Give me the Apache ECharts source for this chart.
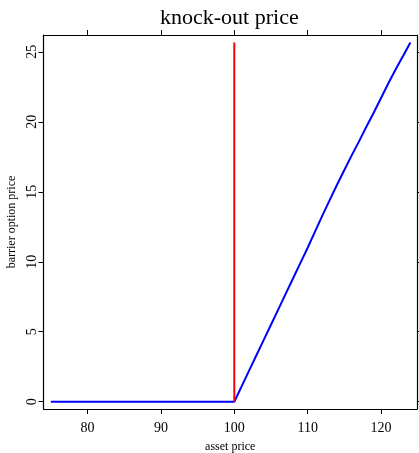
<!DOCTYPE html>
<html>
<head>
<meta charset="utf-8">
<script src="https://cdn.jsdelivr.net/npm/echarts@6/dist/echarts.min.js"></script>
<style>
  html, body { margin: 0; padding: 0; background: #fff; }
  #chart { width: 419px; height: 453px; }
</style>
</head>
<body>
<div id="chart"></div>
<script>
// asset price grid and knock-out option price
var assetPrice = [75, 80, 85, 90, 95, 100, 101, 102, 103, 104, 105, 106, 107, 108, 109, 110,
                  111, 112, 113, 114, 115, 116, 117, 118, 119, 120, 121, 122, 123, 124];
var optionPrice = [0, 0, 0, 0, 0, 0, 1.1, 2.2, 3.3, 4.4, 5.5, 6.6, 7.7, 8.8, 9.9, 11.0,
                   12.15, 13.3, 14.4, 15.5, 16.55, 17.6, 18.6, 19.65, 20.65, 21.7, 22.75, 23.75, 24.7, 25.67];
var barrier = 100;
var barrierTop = 25.67;
var xTicks = [80, 90, 100, 110, 120];
var yTicks = [0, 5, 10, 15, 20, 25];

var chart = echarts.init(document.getElementById('chart'));

var serif = 'Liberation Serif';
var blueData = assetPrice.map(function (x, i) { return [x, optionPrice[i]]; });
var redData = [[barrier, 0], [barrier, barrierTop]];

var axisLine = { show: true, onZero: false, lineStyle: { color: '#000', width: 1.2 } };

option = {
  animation: false,
  title: {
    text: 'knock-out price',
    left: 155,
    top: 2,
    textStyle: { fontFamily: serif, fontSize: 22, fontWeight: 'normal', color: '#000' }
  },
  grid: { left: 43.5, right: 2, top: 35, bottom: 44, containLabel: false, outerBoundsMode: 'none' },
  xAxis: [
    {
      type: 'value', min: 74, max: 124.9,
      position: 'bottom',
      name: 'asset price', nameLocation: 'middle', nameGap: 32,
      nameTextStyle: { fontFamily: serif, fontSize: 12, color: '#000' },
      axisLine: axisLine,
      splitLine: { show: false },
      axisLabel: {
        fontFamily: serif, fontSize: 14, color: '#000', margin: 12,
        customValues: xTicks
      },
      axisTick: { show: true, length: 5, lineStyle: { color: '#000' }, customValues: xTicks }
    },
    {
      type: 'value', min: 74, max: 124.9,
      position: 'top',
      axisLine: axisLine,
      axisTick: { show: true, length: 5, lineStyle: { color: '#000' }, customValues: xTicks },
      axisLabel: { show: false, customValues: xTicks },
      splitLine: { show: false }
    }
  ],
  yAxis: [
    {
      type: 'value', min: -0.52, max: 26.2,
      position: 'left',
      name: 'barrier option price', nameLocation: 'middle', nameGap: 25, nameRotate: 90,
      nameTextStyle: { fontFamily: serif, fontSize: 12, color: '#000' },
      axisLine: axisLine,
      axisTick: { show: true, length: 5, lineStyle: { color: '#000' }, customValues: yTicks },
      axisLabel: {
        fontFamily: serif, fontSize: 14, color: '#000', margin: 4, rotate: 90,
        customValues: yTicks
      },
      splitLine: { show: false }
    },
    {
      type: 'value', min: -0.52, max: 26.2,
      position: 'right',
      axisLine: axisLine,
      axisTick: { show: true, length: 5, lineStyle: { color: '#000' }, customValues: yTicks },
      axisLabel: { show: false, customValues: yTicks },
      splitLine: { show: false }
    }
  ],
  series: [
    {
      name: 'price', type: 'line', data: blueData,
      xAxisIndex: 0, yAxisIndex: 0,
      showSymbol: false, symbol: 'none',
      lineStyle: { color: '#0000ff', width: 2 }
    },
    {
      name: 'barrier', type: 'line', data: redData,
      xAxisIndex: 0, yAxisIndex: 0,
      showSymbol: false, symbol: 'none',
      lineStyle: { color: '#ff0000', width: 2 }
    }
  ]
};

chart.setOption(option);
</script>
</body>
</html>
